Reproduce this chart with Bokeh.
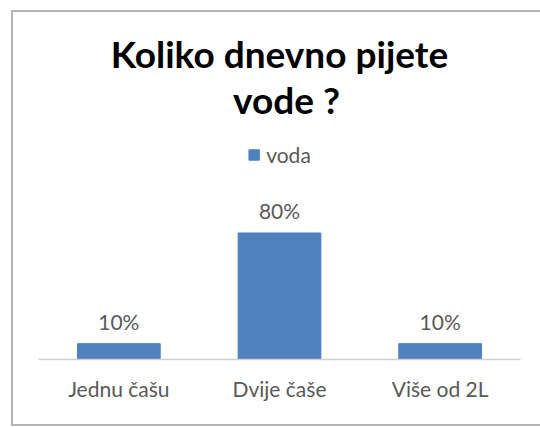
from bokeh.plotting import figure
from bokeh.models import ColumnDataSource, Range1d, Legend, LegendItem
from bokeh.core.properties import value
from bokeh.embed import file_html
from bokeh.resources import INLINE

categories = ["Jednu čašu", "Dvije čaše", "Više od 2L"]
values = [10, 80, 10]
value_labels = ["10%", "80%", "10%"]
series_name = "voda"
title_lines = ["Koliko dnevno pijete", "vode ?"]

BAR = "#4F81BD"
GRAY = "#595959"
FONT = "Lato"
Y_TOP = 227

src = ColumnDataSource(dict(cat=categories, val=values, lab=value_labels))

p = figure(x_range=categories, y_range=Range1d(0, Y_TOP),
           width=540, height=427, output_backend="svg", toolbar_location=None,
           min_border_left=38, min_border_right=20, min_border_top=0,
           min_border_bottom=68)
p.border_fill_color = None
p.background_fill_color = None
p.outline_line_color = None
# chart-area frame (left, top and bottom edges) painted behind the canvas
_g = "linear-gradient(#b4b4b4, #b4b4b4)"
p.styles = {"background": f"{_g} 11px 10px / 2px 416px no-repeat, "
                          f"{_g} 11px 10px / 540px 2px no-repeat, "
                          f"{_g} 11px 424px / 540px 2px no-repeat, #ffffff",
            "overflow": "hidden"}

p.title.visible = False
title_src = ColumnDataSource(dict(x=[categories[1]] * len(title_lines),
                                  y=[Y_TOP] * len(title_lines),
                                  t=title_lines,
                                  dx=[0, 7], dy=[53, 99]))
p.text(x="x", y="y", text="t", source=title_src, x_offset="dx", y_offset="dy",
       text_align="center", text_baseline="alphabetic",
       text_font=value(FONT), text_font_size="37px", text_font_style="bold",
       text_color="#000000")

r = p.vbar(x="cat", top="val", width=0.515, source=src, color=BAR)

p.text(x="cat", y="val", text="lab", source=src, text_align="center",
       text_baseline="middle", y_offset=-22, text_font=value(FONT),
       text_font_size="21px", text_color=GRAY)

legend = Legend(items=[LegendItem(label=series_name, renderers=[r])],
                location="top_center", orientation="horizontal",
                border_line_color=None, background_fill_alpha=0,
                label_text_font=FONT, label_text_font_size="21px",
                label_text_color=GRAY, glyph_width=13, glyph_height=13,
                label_standoff=6, padding=0, margin=142, spacing=0)
p.add_layout(legend)

p.xgrid.grid_line_color = None
p.ygrid.grid_line_color = None
p.yaxis.visible = False
xa = p.xaxis[0]
xa.axis_line_color = "#cfcfcf"
xa.axis_line_width = 1.5
xa.major_tick_line_color = None
xa.minor_tick_line_color = None
xa.major_label_standoff = 10
xa.major_label_text_font = FONT
xa.major_label_text_font_size = "21px"
xa.major_label_text_color = GRAY

open("out.html", "w").write(file_html(p, INLINE))
